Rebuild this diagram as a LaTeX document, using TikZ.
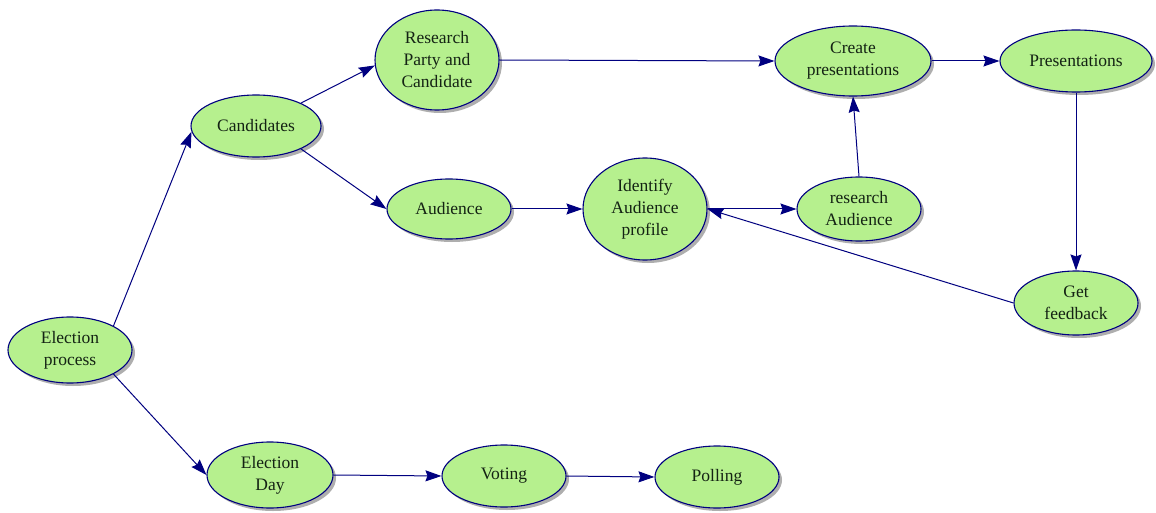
\documentclass[tikz,border=0pt]{standalone}
\usepackage{fontspec}
\setmainfont{Liberation Serif}
\usetikzlibrary{shapes.geometric,shadows,arrows.meta}
\definecolor{nodegreen}{RGB}{182,240,142}
\definecolor{edgeblue}{RGB}{0,0,128}
\definecolor{textdark}{RGB}{20,35,20}
\begin{document}
\begin{tikzpicture}[x=1pt,y=-1pt,
  bubble/.style={ellipse,draw=edgeblue,line width=1.1pt,fill=nodegreen,
    inner sep=0pt,align=center,text=textdark,
    font=\fontsize{17.5}{22}\selectfont,
    drop shadow={shadow xshift=3pt,shadow yshift=-3pt,fill=black!45,opacity=0.7}},
  link/.style={draw=edgeblue,line width=1pt,
    -{Stealth[length=16pt,width=11pt,inset=2pt]}}]
\useasboundingbox[fill=white] (0,0) rectangle (1156,513);
\node[bubble,minimum width=124pt,minimum height=66pt] (ep) at (70,350) {Election\\process};
\node[bubble,minimum width=130pt,minimum height=62pt] (cand) at (256,126) {Candidates};
\node[bubble,minimum width=124pt,minimum height=100pt] (rpc) at (437,60) {Research\\Party and\\Candidate};
\node[bubble,minimum width=156pt,minimum height=70pt] (cp) at (853,61) {Create\\presentations};
\node[bubble,minimum width=152pt,minimum height=62pt] (pres) at (1076,61) {Presentations};
\node[bubble,minimum width=124pt,minimum height=60pt] (aud) at (449,209) {Audience};
\node[bubble,minimum width=124pt,minimum height=102pt] (iap) at (645,209) {Identify\\Audience\\profile};
\node[bubble,minimum width=124pt,minimum height=64pt] (ra) at (859,209) {research\\Audience};
\node[bubble,minimum width=124pt,minimum height=64pt] (gf) at (1076,303) {Get\\feedback};
\node[bubble,minimum width=126pt,minimum height=66pt] (ed) at (270,475) {Election\\Day};
\node[bubble,minimum width=124pt,minimum height=62pt] (vot) at (504,476) {Voting};
\node[bubble,minimum width=124pt,minimum height=62pt] (pol) at (717,477) {Polling};

\draw[link] (ep.29) -- (cand.185);
\draw[link] (ep.331) -- (ed.west);
\draw[link] (cand.27) -- (rpc.185);
\draw[link] (cand.333) -- (aud.west);
\draw[link] (rpc.east) -- (cp.west);
\draw[link] (cp.east) -- (pres.west);
\draw[link] (pres.south) -- (gf.north);
\draw[link] (aud.east) -- (iap.west);
\draw[link] (iap.east) -- (ra.west);
\draw[link] (ra.north) -- (cp.south);
\draw[link] (gf.west) -- (iap.east);
\draw[link] (ed.east) -- (vot.west);
\draw[link] (vot.east) -- (pol.west);
\end{tikzpicture}
\end{document}
